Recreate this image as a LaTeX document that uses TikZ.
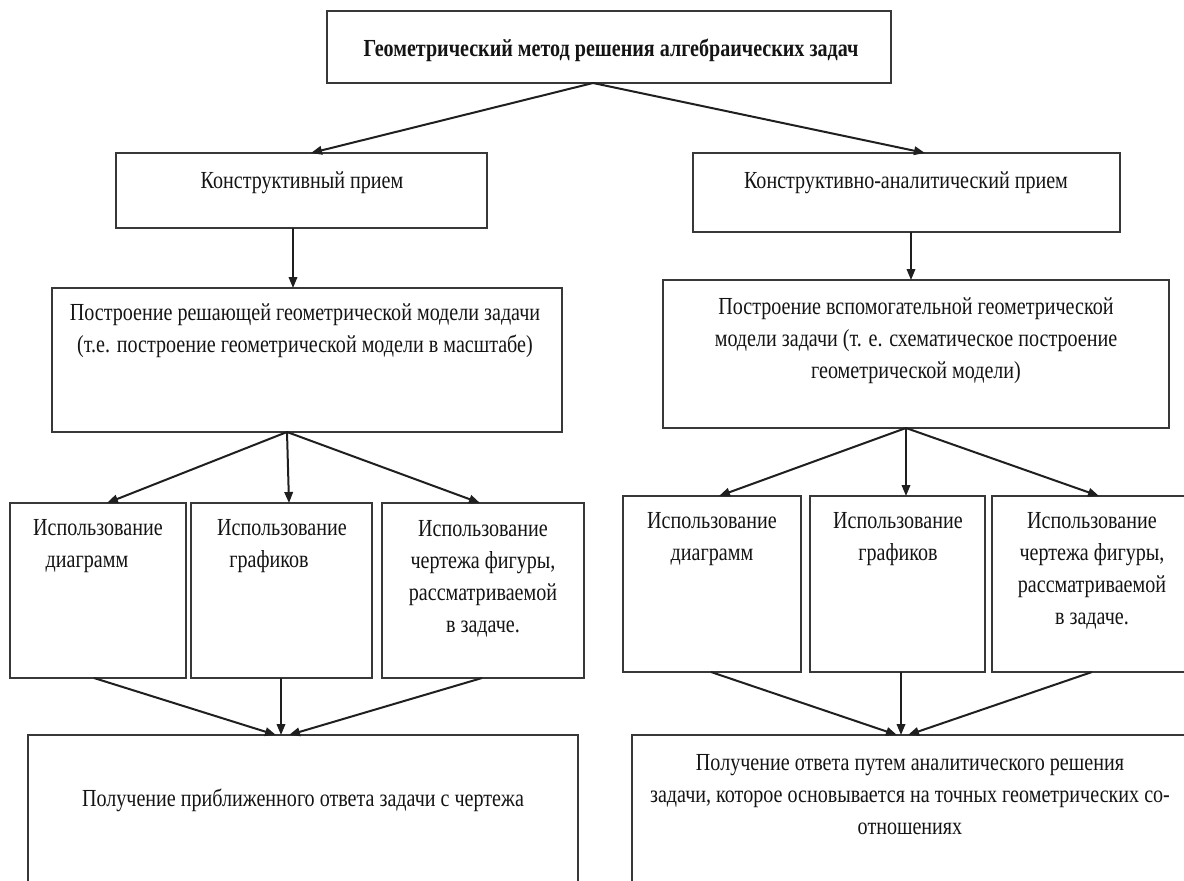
\documentclass[tikz,border=0pt]{standalone}
\usepackage{fontspec}
\setmainfont{Liberation Serif}[FakeStretch=0.82]
\usetikzlibrary{arrows.meta,calc}
\newcommand\mkbox[5]{\node[box, minimum width={#4-#2}, minimum height={#5-#3}] (#1) at ({(#2+#4)/2},{(#3+#5)/2}) {};}
\begin{document}
\begin{tikzpicture}[x=1pt,y=-1pt,
  box/.style={draw=black!78, line width=1.8pt, inner sep=0pt, outer sep=0pt},
  lbl/.style={font=\fontsize{24.5}{32}\selectfont, align=center, inner sep=0pt, text=black!92},
  ttl/.style={lbl, font=\fontsize{24.5}{32}\selectfont\bfseries},
  arr/.style={draw=black!88, line width=2pt, -{Triangle[length=11pt,width=8.5pt]}}]
\clip (0,0) rectangle (1184,881);
\useasboundingbox (0,0) rectangle (1184,881);
% boxes
\mkbox{T}{327}{11}{891}{83}
\mkbox{L1}{116}{153}{487}{228}
\mkbox{R1}{693}{153}{1120}{232}
\mkbox{L2}{52}{288}{562}{432}
\mkbox{R2}{663}{280}{1169}{428}
\mkbox{L3a}{10}{503}{186}{678}
\mkbox{L3b}{191}{503}{372}{678}
\mkbox{L3c}{382}{503}{584}{678}
\mkbox{R3a}{623}{496}{801}{672}
\mkbox{R3b}{810}{496}{985}{672}
\mkbox{R3c}{992}{496}{1188}{672}
\mkbox{L4}{28}{735}{578}{900}
\mkbox{R4}{632}{735}{1188}{900}
% texts
\node[ttl] (Tt) at (611,50) {Геометрический метод решения алгебраических задач};
\node[lbl] (L1t) at (302,183) {Конструктивный прием};
\node[lbl] (R1t) at (906,183) {Конструктивно-аналитический прием};
\node[lbl] (L2t) at (305,331) {Построение решающей геометрической модели задачи\\(т.е. построение геометрической модели в масштабе)};
\node[lbl] (R2t) at (916,341) {Построение вспомогательной геометрической\\модели задачи (т. е. схематическое построение\\геометрической модели)};
\node[lbl] (L3at) at (98,546.5) {Использование\\диаграмм\hspace*{22pt}};
\node[lbl] (L3bt) at (282,546.5) {Использование\\графиков\hspace*{26pt}};
\node[lbl] (L3ct) at (483,578.5) {Использование\\чертежа фигуры,\\рассматриваемой\\в задаче.};
\node[lbl] (R3at) at (712,539.5) {Использование\\диаграмм};
\node[lbl] (R3bt) at (898,539.5) {Использование\\графиков};
\node[lbl] (R3ct) at (1092,571) {Использование\\чертежа фигуры,\\рассматриваемой\\в задаче.};
\node[lbl] (L4t) at (303,800) {Получение приближенного ответа задачи с чертежа};
\node[lbl] (R4t) at (910,795) {Получение ответа путем аналитического решения\\задачи, которое основывается на точных геометрических со-\\отношениях};
% connectors
\draw[arr] ([xshift=-16pt]T.south) -- ([xshift=9.5pt]L1.north);
\draw[arr] ([xshift=-16pt]T.south) -- ([xshift=18.5pt]R1.north);
\draw[arr] ([xshift=-8.5pt]L1.south) -- ([xshift=-14pt]L2.north);
\draw[arr] ([xshift=4.5pt]R1.south) -- ([xshift=-5pt]R2.north);
\draw[arr] ([xshift=-20pt]L2.south) -- ([xshift=9pt]L3a.north);
\draw[arr] ([xshift=-20pt]L2.south) -- ([xshift=7.5pt]L3b.north);
\draw[arr] ([xshift=-20pt]L2.south) -- ([xshift=-3pt]L3c.north);
\draw[arr] ([xshift=-10pt]R2.south) -- ([xshift=7pt]R3a.north);
\draw[arr] ([xshift=-10pt]R2.south) -- ([xshift=8.5pt]R3b.north);
\draw[arr] ([xshift=-10pt]R2.south) -- ([xshift=9pt]R3c.north);
\draw[arr] ([xshift=-4pt]L3a.south) -- ([xshift=-27pt]L4.north);
\draw[arr] ([xshift=-0.5pt]L3b.south) -- ([xshift=-22pt]L4.north);
\draw[arr] ([xshift=-1pt]L3c.south) -- ([xshift=-14pt]L4.north);
\draw[arr] ([xshift=-1pt]R3a.south) -- ([xshift=-13pt]R4.north);
\draw[arr] ([xshift=3.5pt]R3b.south) -- ([xshift=-9pt]R4.north);
\draw[arr] ([xshift=2pt]R3c.south) -- ([xshift=-2pt]R4.north);
\end{tikzpicture}
\end{document}
